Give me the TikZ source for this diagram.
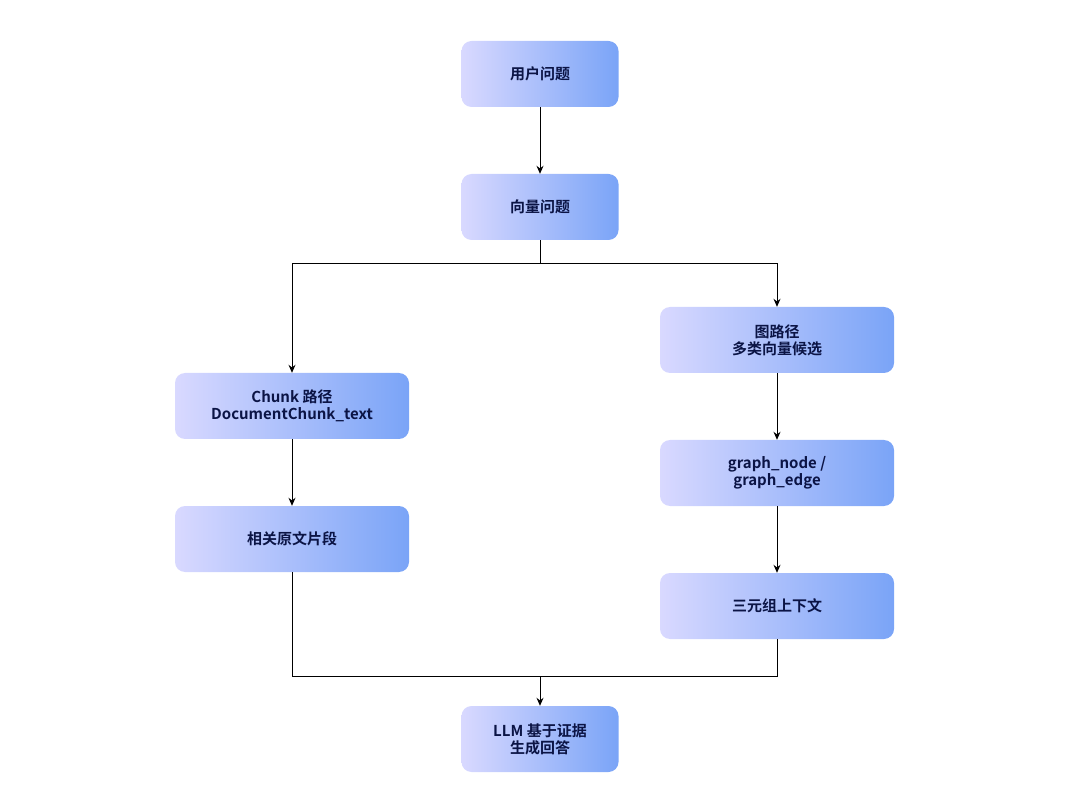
\documentclass[tikz,border=0pt]{standalone}
\usepackage{fontspec}
\setmainfont{Noto Sans CJK SC}[BoldFont={Noto Sans CJK SC Bold}]
\usetikzlibrary{arrows.meta}
\definecolor{txt}{HTML}{0B1445}
\begin{document}
\begin{tikzpicture}[x=1pt,y=-1pt,
  box/.style={rounded corners=10pt,left color=blue!15!white,right color={rgb,255:red,122;green,164;blue,247},
    minimum height=66pt,align=center,font=\bfseries\fontsize{15}{17}\selectfont,text=txt,inner sep=0pt},
  sm/.style={box,minimum width=157pt},
  lg/.style={box,minimum width=234pt},
  arr/.style={-{Stealth[length=8pt,width=7pt]},line width=1pt},
  ln/.style={line width=1pt}]
\useasboundingbox (0,0) rectangle (1080,810);
\node[sm] (q) at (540,74) {用户问题};
\node[sm] (v) at (540,207) {向量问题};
\node[lg] (g) at (777,340) {图路径\\多类向量候选};
\node[lg] (c) at (292,406) {Chunk 路径\\DocumentChunk\_text};
\node[sm,minimum width=234pt] (r) at (292,539) {相关原文片段};
\node[lg] (n) at (777,473) {graph\_node /\\graph\_edge};
\node[lg] (t) at (777,606) {三元组上下文};
\node[sm] (l) at (540,739) {LLM 基于证据\\生成回答};
\coordinate (s) at (540,264);
\coordinate (m) at (540,676);
\draw[arr] (q) -- (v);
\draw[ln] (v) -- (s);
\draw[arr] (s) -| (c);
\draw[arr] (s) -| (g);
\draw[arr] (c) -- (r);
\draw[arr] (g) -- (n);
\draw[arr] (n) -- (t);
\draw[ln] (r) |- (m);
\draw[ln] (t) |- (m);
\draw[arr] (m) -- (l);
\end{tikzpicture}
\end{document}
